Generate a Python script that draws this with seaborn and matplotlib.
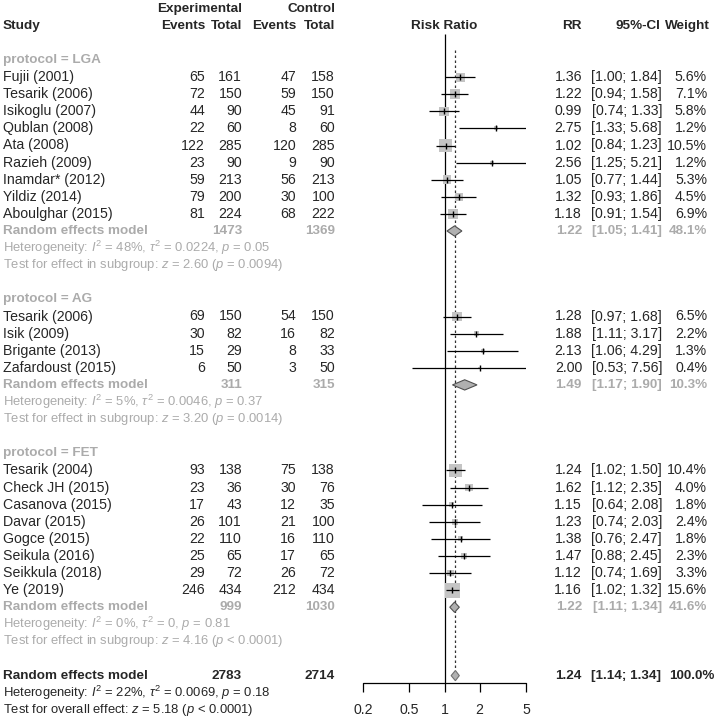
import numpy as np
import pandas as pd
import matplotlib
matplotlib.use("Agg")
import matplotlib.pyplot as plt
import matplotlib.transforms as mtransforms
import seaborn as sns

# ---- data ----
groups = ["LGA", "AG", "FET"]
study = ["Fujii (2001)", "Tesarik (2006)", "Isikoglu (2007)", "Qublan (2008)", "Ata (2008)",
         "Razieh (2009)", "Inamdar* (2012)", "Yildiz (2014)", "Aboulghar (2015)",
         "Tesarik (2006)", "Isik (2009)", "Brigante (2013)", "Zafardoust (2015)",
         "Tesarik (2004)", "Check JH (2015)", "Casanova (2015)", "Davar (2015)", "Gogce (2015)",
         "Seikula (2016)", "Seikkula (2018)", "Ye (2019)"]
group = ["LGA"] * 9 + ["AG"] * 4 + ["FET"] * 8
e_events = [65, 72, 44, 22, 122, 23, 59, 79, 81, 69, 30, 15, 6, 93, 23, 17, 26, 22, 25, 29, 246]
e_total = [161, 150, 90, 60, 285, 90, 213, 200, 224, 150, 82, 29, 50, 138, 36, 43, 101, 110, 65, 72, 434]
c_events = [47, 59, 45, 8, 120, 9, 56, 30, 68, 54, 16, 8, 3, 75, 30, 12, 21, 16, 17, 26, 212]
c_total = [158, 150, 91, 60, 285, 90, 213, 100, 222, 150, 82, 33, 50, 138, 76, 35, 100, 110, 65, 72, 434]
rr = [1.36, 1.22, 0.99, 2.75, 1.02, 2.56, 1.05, 1.32, 1.18, 1.28, 1.88, 2.13, 2.00,
      1.24, 1.62, 1.15, 1.23, 1.38, 1.47, 1.12, 1.16]
rr_lo = [1.00, 0.94, 0.74, 1.33, 0.84, 1.25, 0.77, 0.93, 0.91, 0.97, 1.11, 1.06, 0.53,
         1.02, 1.12, 0.64, 0.74, 0.76, 0.88, 0.74, 1.02]
rr_hi = [1.84, 1.58, 1.33, 5.68, 1.23, 5.21, 1.44, 1.86, 1.54, 1.68, 3.17, 4.29, 7.56,
         1.50, 2.35, 2.08, 2.03, 2.47, 2.45, 1.69, 1.32]
weight = [5.6, 7.1, 5.8, 1.2, 10.5, 1.2, 5.3, 4.5, 6.9, 6.5, 2.2, 1.3, 0.4,
          10.4, 4.0, 1.8, 2.4, 1.8, 2.3, 3.3, 15.6]

sub_e_total = [1473, 311, 999]
sub_c_total = [1369, 315, 1030]
sub_rr = [1.22, 1.49, 1.22]
sub_lo = [1.05, 1.17, 1.11]
sub_hi = [1.41, 1.90, 1.34]
sub_w = [48.1, 10.3, 41.6]
sub_het = ["48%", "5%", "0%"]
sub_tau2 = ["0.0224", "0.0046", "0"]
sub_phet = ["0.05", "0.37", "0.81"]
sub_z = ["2.60", "3.20", "4.16"]
sub_pz = ["= 0.0094", "= 0.0014", "< 0.0001"]

all_e_total, all_c_total = 2783, 2714
all_rr, all_lo, all_hi = 1.24, 1.14, 1.34
all_het, all_tau2, all_phet = "22%", "0.0069", "0.18"
all_z, all_pz = "5.18", "< 0.0001"

ticks = [0.2, 0.5, 1, 2, 5]

# ---- style ----
sns.set_style("white")
plt.rcParams["font.family"] = ["Liberation Sans", "DejaVu Sans"]
plt.rcParams["mathtext.fontset"] = "custom"
plt.rcParams["mathtext.rm"] = "Liberation Sans"
plt.rcParams["mathtext.it"] = "Liberation Sans:italic"

FS = 10.2
FS_BOLD = 9.7
FS_SMALL = 9.4
GRAY = "#ababab"
SQ = "#c4c4c4"

W, H = 716, 717
ROW0, ROWH = 60, 17.1

fig = plt.figure(figsize=(W / 100, H / 100), dpi=100)
ax = fig.add_axes([363 / W, 0, 163 / W, 1])
ax.set_xscale("log")
ax.set_xlim(0.2, 5)
ax.set_ylim((H - ROW0) / ROWH, -ROW0 / ROWH)
ax.axis("off")
tr = mtransforms.blended_transform_factory(fig.transFigure, ax.transData)


def put(xpx, k, s, ha="right", bold=False, **kw):
    size = kw.pop("fontsize", FS_BOLD if bold else FS)
    ax.text(xpx / W, k, s, transform=tr, ha=ha, va="center", fontsize=size,
            weight="bold" if bold else "normal", **kw)


# column anchors (pixels)
X_STUDY, X_EEV, X_ETOT, X_CEV, X_CTOT = 3, 205, 242, 296, 335
X_RR, X_CI, X_W = 582, 662, 707

# headers
put(X_ETOT, -3, "Experimental", bold=True)
put(X_CTOT, -3, "Control", bold=True)
put(X_STUDY, -2, "Study", ha="left", bold=True)
for x, s in [(X_EEV, "Events"), (X_ETOT, "Total"), (X_CEV, "Events"), (X_CTOT, "Total"),
             (X_RR, "RR"), (X_CI - 2, "95%-CI"), (X_W + 3, "Weight")]:
    put(x, -2, s, bold=True)
ax.text(1, -2, "Risk Ratio", ha="center", va="center", fontsize=FS_BOLD, weight="bold")

# assign rows
df = pd.DataFrame({"study": study, "group": group, "ee": e_events, "et": e_total,
                   "ce": c_events, "ct": c_total, "rr": rr, "lo": rr_lo, "hi": rr_hi, "w": weight})
rows = []
sub_rows = []
k = 0
for g in groups:
    head = k
    n = (df["group"] == g).sum()
    rows += list(range(k + 1, k + 1 + n))
    sub_rows.append((head, k + 1 + n))
    k += n + 5
df["row"] = rows
all_row = k

# squares sized by weight (area proportional)
wmin, wmax = df["w"].min(), df["w"].max()
sns.scatterplot(data=df, x="rr", y="row", size="w", sizes=(7.5 * wmin, 7.5 * wmax),
                size_norm=(wmin, wmax), marker="s", color=SQ, linewidth=0, legend=False, ax=ax, zorder=2)
ax.hlines(df["row"], df["lo"], df["hi"], color="black", lw=0.9, zorder=3)
ax.plot(df["rr"], df["row"], ls="none", marker="|", ms=4, mew=1, color="black", zorder=4)

for _, r in df.iterrows():
    put(X_STUDY, r["row"], r["study"], ha="left")
    put(X_EEV, r["row"], f"{r['ee']}")
    put(X_ETOT, r["row"], f"{r['et']}")
    put(X_CEV, r["row"], f"{r['ce']}")
    put(X_CTOT, r["row"], f"{r['ct']}")
    put(X_RR, r["row"], f"{r['rr']:.2f}")
    put(X_CI, r["row"], f"[{r['lo']:.2f}; {r['hi']:.2f}]")
    put(X_W, r["row"], f"{r['w']:.1f}%")


def diamond(est, lo, hi, y, fc, ec):
    ax.fill([lo, est, hi, est], [y, y - 0.3, y, y + 0.3], facecolor=fc, edgecolor=ec, lw=0.8, zorder=5)


for i, g in enumerate(groups):
    head, rk = sub_rows[i]
    put(X_STUDY, head, f"protocol = {g}", ha="left", color=GRAY, bold=True)
    put(X_STUDY, rk, "Random effects model", ha="left", color=GRAY, bold=True)
    put(X_ETOT, rk, f"{sub_e_total[i]}", color=GRAY, bold=True)
    put(X_CTOT, rk, f"{sub_c_total[i]}", color=GRAY, bold=True)
    put(X_RR, rk, f"{sub_rr[i]:.2f}", color=GRAY, bold=True)
    put(X_CI, rk, f"[{sub_lo[i]:.2f}; {sub_hi[i]:.2f}]", color=GRAY, bold=True)
    put(X_W, rk, f"{sub_w[i]:.1f}%", color=GRAY, bold=True)
    put(X_STUDY, rk + 1, rf"Heterogeneity: $I^2$ = {sub_het[i]}, $\tau^2$ = {sub_tau2[i]}, $p$ = {sub_phet[i]}",
        ha="left", color=GRAY, fontsize=FS_SMALL)
    put(X_STUDY, rk + 2, rf"Test for effect in subgroup: $z$ = {sub_z[i]} ($p$ {sub_pz[i]})",
        ha="left", color=GRAY, fontsize=FS_SMALL)
    diamond(sub_rr[i], sub_lo[i], sub_hi[i], rk, "#b0b0b0", "#505050")

# overall
put(X_STUDY, all_row, "Random effects model", ha="left", bold=True)
put(X_ETOT, all_row, f"{all_e_total}", bold=True)
put(X_CTOT, all_row, f"{all_c_total}", bold=True)
put(X_RR, all_row, f"{all_rr:.2f}", bold=True)
put(X_CI - 1, all_row, f"[{all_lo:.2f}; {all_hi:.2f}]", bold=True)
put(X_W + 7, all_row, "100.0%", bold=True)
put(X_STUDY, all_row + 1, rf"Heterogeneity: $I^2$ = {all_het}, $\tau^2$ = {all_tau2}, $p$ = {all_phet}",
    ha="left", fontsize=FS_SMALL)
put(X_STUDY, all_row + 2, rf"Test for overall effect: $z$ = {all_z} ($p$ {all_pz})",
    ha="left", fontsize=FS_SMALL)
diamond(all_rr, all_lo, all_hi, all_row, "#b0b0b0", "#707070")

# reference lines and axis
y_axis = all_row + 0.43
ax.vlines(1, -1.5, y_axis, color="black", lw=0.9, zorder=1)
ax.vlines(all_rr, -0.6, all_row - 0.3, color="#333333", lw=0.9, linestyles=(0, (2, 2)), zorder=1)
ax.plot([ticks[0], ticks[-1]], [y_axis, y_axis], color="black", lw=0.9, clip_on=False)
ax.vlines(ticks, y_axis, y_axis + 0.5, color="black", lw=0.9, clip_on=False)
for t in ticks:
    ax.text(t, all_row + 2, f"{t:g}", ha="center", va="center", fontsize=FS, clip_on=False)

fig.savefig("out.png", dpi=100)
